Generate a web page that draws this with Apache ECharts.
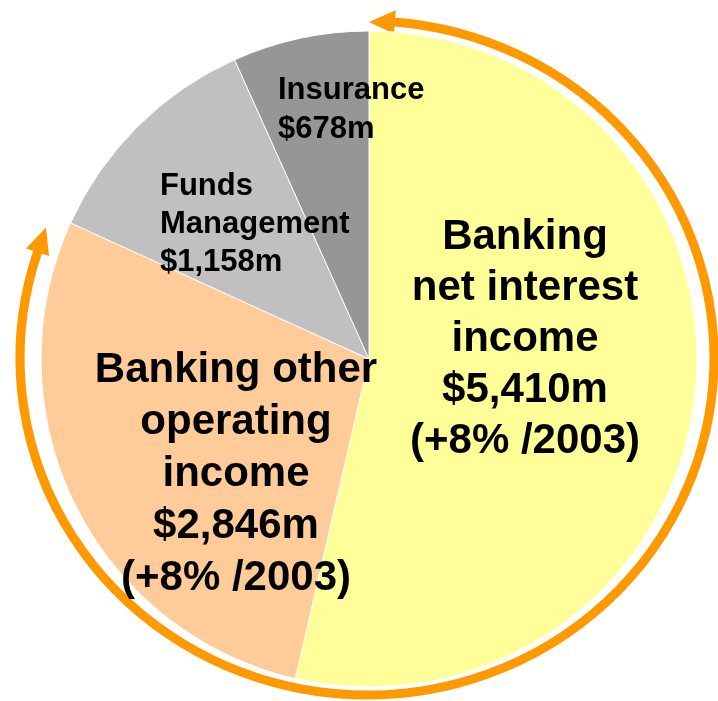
<!DOCTYPE html>
<html>
<head>
<meta charset="utf-8">
<script src="https://cdn.jsdelivr.net/npm/echarts@6/dist/echarts.min.js"></script>
<style>
  html, body { margin: 0; padding: 0; background: #fff; }
  #pie { width: 718px; height: 701px; }
</style>
</head>
<body>
<div id="pie"></div>
<script>
// data
var segments = ['Banking net interest income', 'Banking other operating income', 'Funds Management', 'Insurance'];
var labelLines = [['Banking', 'net interest', 'income'], ['Banking other', 'operating', 'income'], ['Funds', 'Management'], ['Insurance']];
var incomeM = [5410, 2846, 1158, 678];
var growth = ['+8% /2003', '+8% /2003', null, null];

var colors = ['#FFFF99', '#FFCC99', '#C0C0C0', '#969696'];

// label placement relative to pie centre: [dx, dy, align, fontSize, lineHeight]
var labelPos = [
  [156, -20, 'center', 42, 51],
  [-133, 115, 'center', 42, 52],
  [-209, -135, 'left', 31, 38],
  [-91, -249, 'left', 31, 39]
];

var cx = 369, cy = 359, radius = 328;
// orange ring: slightly wider than tall
var arcCx = 367, arcCy = 358, arcR = 342, arcSX = 347 / 342, arcSY = 337 / 342;

var myChart = echarts.init(document.getElementById('pie'));

// point on the ring (group-local), angle clockwise from 12 o'clock
function pt(deg, r) {
  var a = deg * Math.PI / 180;
  return [r * Math.sin(a), -r * Math.cos(a)];
}
function rad(deg) { return (deg - 90) * Math.PI / 180; }

var total = incomeM.reduce(function (a, b) { return a + b; }, 0);
var split = incomeM[0] / total * 360; // where the two arrows start

var arrowStroke = '#FF9900';
var graphics = [
  {
    type: 'group',
    x: arcCx,
    y: arcCy,
    scaleX: arcSX,
    scaleY: arcSY,
    children: [
      {
        type: 'arc',
        shape: { cx: 0, cy: 0, r: arcR, startAngle: rad(4.4), endAngle: rad(split), clockwise: true },
        style: { stroke: arrowStroke, lineWidth: 9, fill: null }
      },
      {
        type: 'arc',
        shape: { cx: 0, cy: 0, r: arcR, startAngle: rad(split), endAngle: rad(288.6), clockwise: true },
        style: { stroke: arrowStroke, lineWidth: 9, fill: null }
      },
      {
        type: 'polygon',
        shape: { points: [pt(0.3, arcR - 1), pt(4.6, arcR - 12), pt(4.6, arcR + 12)] },
        style: { fill: arrowStroke }
      },
      {
        type: 'polygon',
        shape: { points: [pt(292.7, arcR + 1), pt(288.3, arcR - 12), pt(288.3, arcR + 12)] },
        style: { fill: arrowStroke }
      }
    ]
  }
];

var option = {
  animation: false,
  backgroundColor: '#fff',
  graphic: graphics,
  series: [
    {
      type: 'pie',
      center: [cx, cy],
      radius: radius,
      startAngle: 90,
      clockwise: true,
      avoidLabelOverlap: false,
      minShowLabelAngle: 0,
      emphasis: { disabled: true },
      itemStyle: { borderColor: '#ffffff', borderWidth: 1 },
      label: {
        show: true,
        position: 'inside',
        color: '#000',
        fontFamily: 'Liberation Sans, Arial, sans-serif',
        fontWeight: 'bold',
        overflow: 'none'
      },
      labelLine: { show: false },
      labelLayout: function (params) {
        var p = labelPos[params.dataIndex];
        return { x: cx + p[0], y: cy + p[1], align: p[2], verticalAlign: 'middle' };
      },
      data: segments.map(function (name, i) {
        var lines = labelLines[i].slice();
        lines.push('$' + incomeM[i].toLocaleString('en-US') + 'm');
        if (growth[i]) lines.push('(' + growth[i] + ')');
        return {
          name: name,
          value: incomeM[i],
          itemStyle: { color: colors[i] },
          label: {
            formatter: lines.join('\n'),
            fontSize: labelPos[i][3],
            lineHeight: labelPos[i][4],
            align: labelPos[i][2]
          }
        };
      })
    }
  ]
};
myChart.setOption(option);
window.addEventListener('resize', function () {
  myChart.resize();
});
</script>
</body>
</html>
